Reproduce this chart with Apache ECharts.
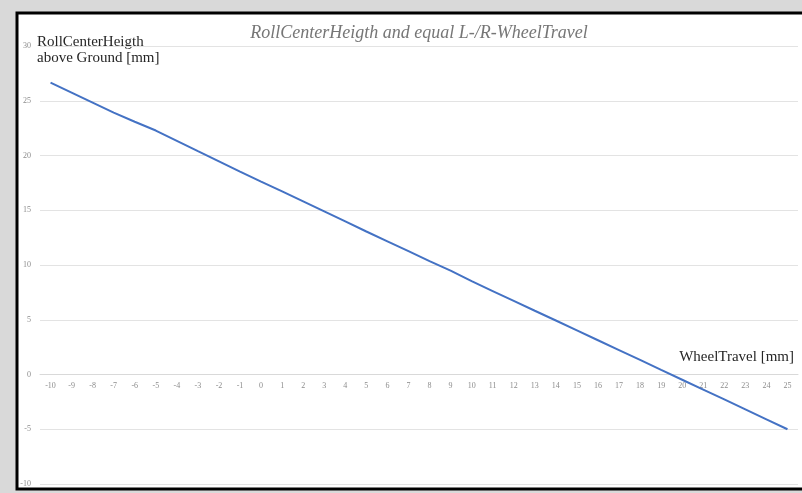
<!DOCTYPE html>
<html>
<head>
<meta charset="utf-8">
<script src="https://cdn.jsdelivr.net/npm/echarts@6/dist/echarts.min.js"></script>
<style>
  html, body { margin: 0; padding: 0; background: #d9d9d9; }
  #main { width: 802px; height: 493px; }
</style>
</head>
<body>
<div id="main"></div>
<script>
// wheel travel [mm]
var travel = [-10, -9, -8, -7, -6, -5, -4, -3, -2, -1, 0, 1, 2, 3, 4, 5, 6, 7,
  8, 9, 10, 11, 12, 13, 14, 15, 16, 17, 18, 19, 20, 21, 22, 23, 24, 25];
// roll center height above ground [mm]
var rollCenter = [26.65, 25.74, 24.83, 23.92, 23.08, 22.28, 21.34, 20.4, 19.47, 18.53,
  17.62, 16.72, 15.81, 14.9, 13.98, 13.06, 12.16, 11.26, 10.36, 9.48,
  8.52, 7.62, 6.72, 5.82, 4.93, 4.03, 3.13, 2.23, 1.33, 0.42,
  -0.48, -1.38, -2.28, -3.18, -4.09, -5.0];
var yTicks = { min: -10, max: 30, step: 5 };

var chart = echarts.init(document.getElementById("main"));
var serif = "'Liberation Serif', 'DejaVu Serif', serif";

// plot box in pixels
var gridTop = 46, gridBottom = 9;
var plotH = 493 - gridTop - gridBottom;
// move the category axis up to y = 0
var zeroOffset = -plotH * (0 - yTicks.min) / (yTicks.max - yTicks.min);

chart.setOption({
  backgroundColor: "#d9d9d9",
  animation: false,
  graphic: [
    {
      type: "rect",
      z: -10,
      shape: { x: 17, y: 13, width: 800, height: 476 },
      style: { fill: "#fff", stroke: "#000", lineWidth: 3 }
    },
    {
      type: "text",
      left: 37, top: 34,
      style: {
        text: "RollCenterHeigth\nabove Ground [mm]",
        font: "15px " + serif, fill: "#262626", lineHeight: 16
      }
    },
    {
      type: "text",
      right: 8, top: 350,
      style: { text: "WheelTravel [mm]", font: "15px " + serif, fill: "#262626" }
    }
  ],
  title: {
    text: "RollCenterHeigth and equal L-/R-WheelTravel",
    left: 414, top: 19, textAlign: "center",
    textStyle: { fontFamily: serif, fontStyle: "italic", fontWeight: "normal", fontSize: 18, color: "#767676" }
  },
  grid: { left: 40, right: 4, top: gridTop, bottom: gridBottom, outerBoundsMode: "none" },
  xAxis: {
    type: "category",
    data: travel,
    boundaryGap: true,
    offset: zeroOffset,
    axisLine: { onZero: false, lineStyle: { color: "#d9d9d9" } },
    axisTick: { show: false },
    axisLabel: { interval: 0, margin: 7, fontFamily: serif, fontSize: 8, color: "#8c8c8c" },
    splitLine: { show: false }
  },
  yAxis: {
    type: "value",
    min: yTicks.min, max: yTicks.max, interval: yTicks.step,
    axisLine: { show: false },
    axisTick: { show: false },
    axisLabel: { margin: 9, fontFamily: serif, fontSize: 8, color: "#8c8c8c" },
    splitLine: { lineStyle: { color: "#e3e3e3", width: 1 } }
  },
  series: [
    {
      type: "line",
      data: rollCenter,
      showSymbol: false,
      lineStyle: { color: "#4472c4", width: 2 },
      itemStyle: { color: "#4472c4" }
    }
  ]
});
</script>
</body>
</html>
